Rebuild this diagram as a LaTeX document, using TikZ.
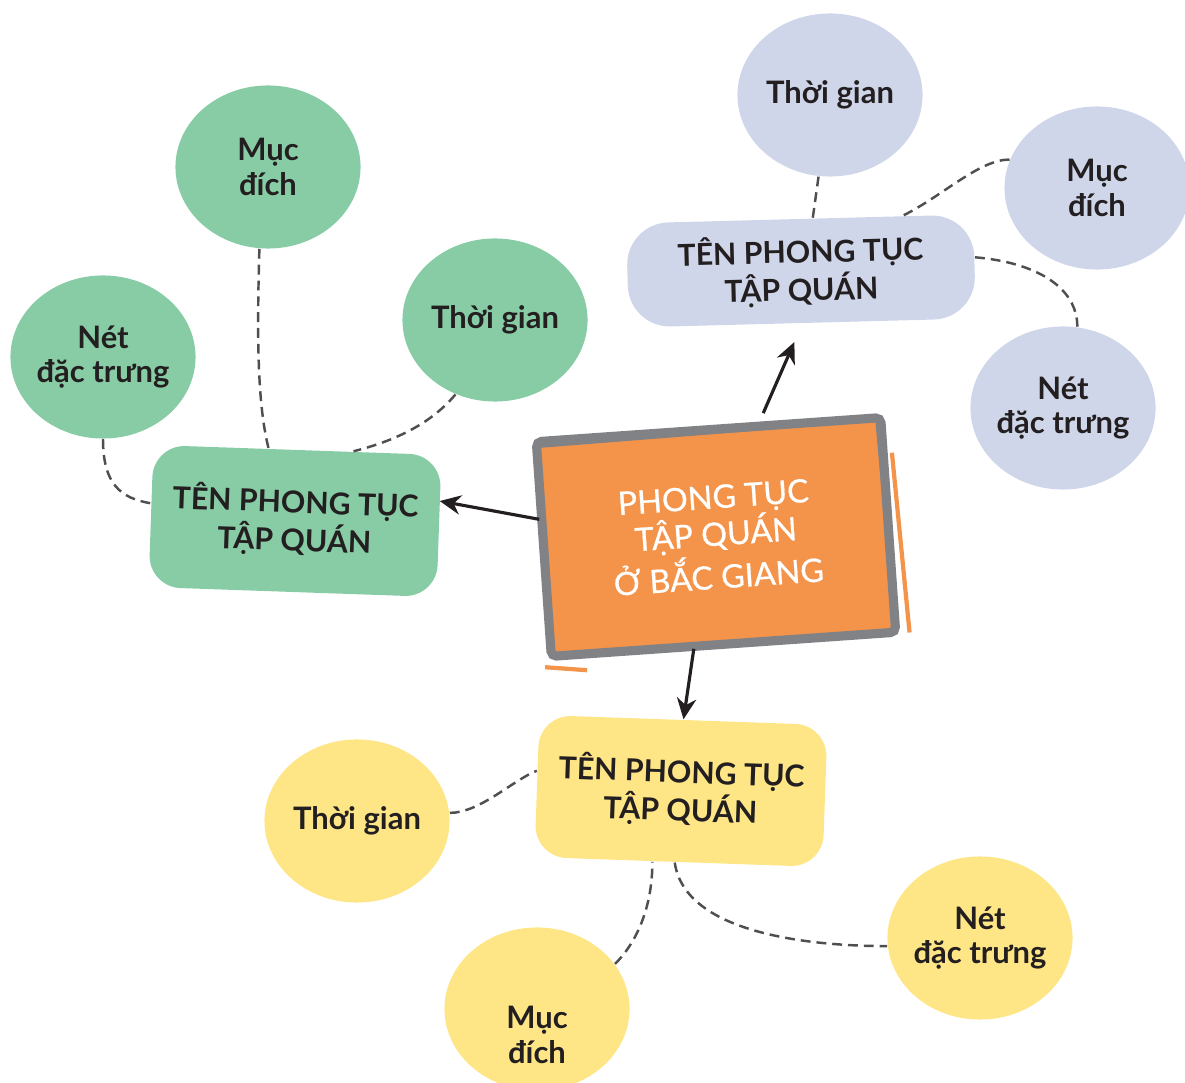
\documentclass[tikz,border=0pt]{standalone}
\usepackage{fontspec}
\setmainfont{Lato}
\newfontfamily\hubfont[FakeBold=0.6]{Lato}
\usetikzlibrary{shapes,positioning,arrows.meta}

\definecolor{greenfill}{HTML}{88CCA6}
\definecolor{lilacfill}{HTML}{D0D6EA}
\definecolor{yellowfill}{HTML}{FEE585}
\definecolor{orangefill}{HTML}{F4934A}
\definecolor{framegrey}{HTML}{818286}
\definecolor{linegrey}{HTML}{4F4F52}
\definecolor{inkblack}{HTML}{231F20}

\begin{document}
\begin{tikzpicture}[x=0.01cm,y=0.01cm,
    font=\fontsize{8.8}{9.8}\selectfont\bfseries,text=inkblack,
    bubble/.style={ellipse,
        minimum width=1.85cm,
        minimum height=1.63cm,
        inner sep=-1pt,
        align=center},
    topic/.style={rectangle,
        minimum width=2.88cm,
        minimum height=1.42cm,
        rounded corners=0.32cm,
        align=center,
        font=\fontsize{8.6}{10.8}\selectfont\bfseries},
    link/.style={linegrey,line width=0.7pt,dash pattern=on 2.8pt off 1.7pt},
    arr/.style={inkblack,line width=0.9pt,-{Stealth[length=6pt,width=5.5pt]}}]

\useasboundingbox (0,0) rectangle (1185,-1083);
\clip (0,0) rectangle (1185,-1083);

% Main block
\node[draw=framegrey,
    fill=orangefill,
    line width=2.6pt,
    rounded corners=1.5pt,
    minimum width=3.45cm,
    minimum height=2.15cm,
    rotate=4,
    align=center,
    text=white,
    font=\hubfont\fontsize{9.2}{10.6}\selectfont] (hub) at (716,-537) {PHONG TỤC\\TẬP QUÁN\\Ở BẮC GIANG};

% sketchy strokes round the main block
\draw[framegrey,line width=0.8pt] ([shift={(8,-9)}]hub.north west) -- ([shift={(-8,-7)}]hub.north east);
\draw[framegrey,line width=0.8pt] ([shift={(-8,-10)}]hub.north east) -- ([shift={(-5,8)}]hub.south east);
\draw[orangefill,line width=1.2pt] ([shift={(7,-40)}]hub.north east) -- ([shift={(9,4)}]hub.south east);
\draw[orangefill,line width=1.2pt] ([shift={(-2,-6)}]hub.south west) -- ([shift={(40,-9)}]hub.south west);

% Green group
\node[topic,
    fill=greenfill,
    rotate=-2] (gbox) at (295,-521) {TÊN PHONG TỤC\\TẬP QUÁN};

\node[bubble,fill=greenfill] (gmuc) at (268,-167) {Mục\\đích};
\node[bubble,fill=greenfill] (gnet) at (103,-357) {Nét\\đặc trưng};
\node[bubble,fill=greenfill] (gtime) at (495,-320) {Thời gian};

% Lilac group
\node[topic,
    fill=lilacfill,
    minimum width=3.47cm,
    minimum height=1.04cm,
    rounded corners=0.42cm,
    rotate=1.5] (lbox) at (801,-271) {TÊN PHONG TỤC\\TẬP QUÁN};

\node[bubble,fill=lilacfill] (ltime) at (830,-95) {Thời gian};
\node[bubble,fill=lilacfill] (lmuc) at (1097,-188) {Mục\\đích};
\node[bubble,fill=lilacfill] (lnet) at (1063,-408) {Nét\\đặc trưng};

% Yellow group
\node[topic,
    fill=yellowfill,
    rotate=-2] (ybox) at (681,-791) {TÊN PHONG TỤC\\TẬP QUÁN};

\node[bubble,fill=yellowfill] (ytime) at (357,-821) {Thời gian};
\node[bubble,fill=yellowfill,
    label={[align=center,yshift=-0.26cm]center:Mục\\đích}] (ymuc) at (537,-1009) {};
\node[bubble,fill=yellowfill] (ynet) at (980,-938) {Nét\\đặc trưng};

% Dashed links
\draw[link] (gmuc.-96) .. controls +(-3,-100) and +(-10,40) .. (gbox.112);
\draw[link] (gnet.south) .. controls +(0,-45) and +(-30,5) .. (gbox.175);
\draw[link] (gtime.-118) .. controls +(-25,-30) and +(40,10) .. (gbox.52);

\draw[link] (ltime.-98) -- (lbox.76);
\draw[link] (lmuc.162) .. controls +(-30,0) and +(40,20) .. (lbox.27);
\draw[link] (lbox.3) .. controls +(60,-5) and +(0,40) .. (lnet.80);

\draw[link] (ytime.5) .. controls +(30,0) and +(-25,-10) .. (ybox.174);
\draw[link] (ymuc.30) .. controls +(25,25) and +(0,-40) .. (ybox.-110);
\draw[link] (ybox.-93) .. controls +(10,-70) and +(-80,0) .. (ynet.185);

% Arrows
\draw[arr] ([yshift=0.3cm]hub.west) -- ([yshift=0.25cm]gbox.east);
\draw[arr,shorten >=0.2cm] ([xshift=0.55cm,yshift=0.12cm]hub.north) -- (lbox.south);
\draw[arr] ([xshift=-0.3cm]hub.south) -- (ybox.north);

\end{tikzpicture}
\end{document}
